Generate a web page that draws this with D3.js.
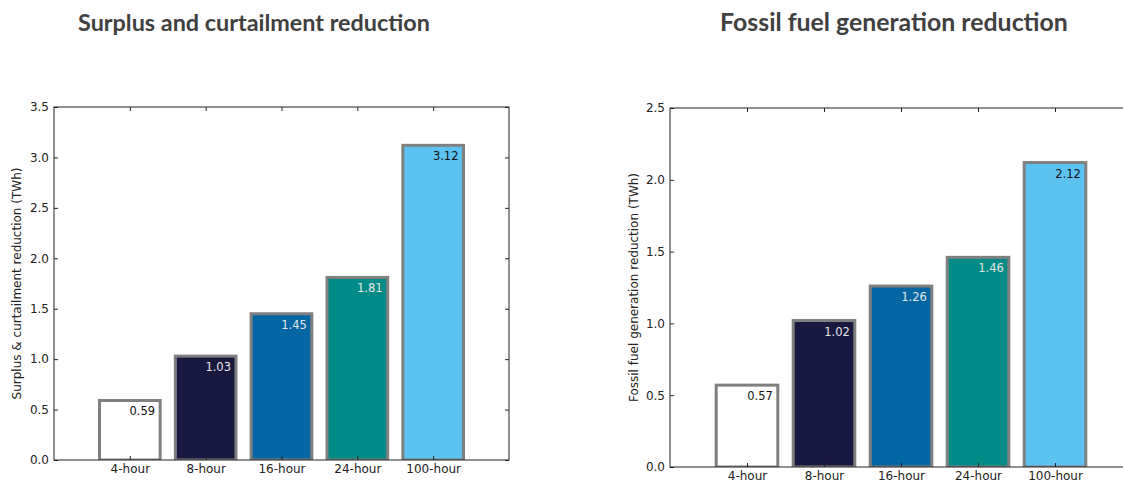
<!DOCTYPE html>
<html>
<head>
<meta charset="utf-8">
<script src="https://cdn.jsdelivr.net/npm/d3@7"></script>
<style>
  html, body { margin: 0; padding: 0; background: #fff; }
  svg { display: block; }
</style>
</head>
<body>
<svg id="chart" width="1123" height="482"></svg>
<script>
const categories = ["4-hour", "8-hour", "16-hour", "24-hour", "100-hour"];
const surplusValues = [0.59, 1.03, 1.45, 1.81, 3.12];
const fossilValues = [0.57, 1.02, 1.26, 1.46, 2.12];
const barColors = ["#ffffff", "#191841", "#0467a4", "#008b87", "#5bc2f1"];
const labelColors = ["#111111", "#e6e6e6", "#e6e6e6", "#e6e6e6", "#111111"];
const surplusTicks = [0, 0.5, 1.0, 1.5, 2.0, 2.5, 3.0, 3.5];
const fossilTicks = [0, 0.5, 1.0, 1.5, 2.0, 2.5];

const svg = d3.select("#chart");

function drawPanel(cfg) {
  const g = svg.append("g");
  const x = d3.scaleLinear().domain([-1, 5]).range([cfg.left, cfg.right]);
  const y = d3.scaleLinear().domain([0, cfg.ymax]).range([cfg.bottom, cfg.top]);
  const font = "'DejaVu Sans', sans-serif";

  const clipId = "clip" + cfg.id;
  svg.append("clipPath").attr("id", clipId)
    .append("rect").attr("x", cfg.left).attr("y", cfg.top)
    .attr("width", cfg.right - cfg.left).attr("height", cfg.bottom - cfg.top);

  const bars = g.append("g").attr("clip-path", `url(#${clipId})`);
  bars.selectAll("rect").data(cfg.values).enter().append("rect")
    .attr("x", (d, i) => x(i - 0.4))
    .attr("width", (d, i) => x(i + 0.4) - x(i - 0.4))
    .attr("y", d => y(d))
    .attr("height", d => y(0) - y(d))
    .attr("fill", (d, i) => barColors[i])
    .attr("stroke", "#808080")
    .attr("stroke-width", 3);

  g.append("g").selectAll("text").data(cfg.values).enter().append("text")
    .attr("x", (d, i) => x(i + 0.4) - 5)
    .attr("y", d => y(d) + 15)
    .attr("text-anchor", "end")
    .style("font-family", font)
    .style("font-size", "11.5px")
    .attr("fill", (d, i) => labelColors[i])
    .text(d => d.toFixed(2));

  const idx = d3.range(categories.length);
  const fmt = d3.format(".1f");
  const styleAxis = sel => {
    sel.selectAll(".domain").remove();
    sel.selectAll("line").attr("stroke", "#222");
    sel.selectAll("text").style("font-family", font).style("font-size", "12px").attr("fill", "#222");
  };
  g.append("g").attr("transform", `translate(${cfg.left},0)`)
    .call(d3.axisLeft(y).tickValues(cfg.ticks).tickFormat(fmt).tickSize(-4).tickPadding(5))
    .call(styleAxis);
  g.append("g").attr("transform", `translate(${cfg.right},0)`)
    .call(d3.axisRight(y).tickValues(cfg.ticks).tickFormat("").tickSize(-4))
    .call(styleAxis);
  g.append("g").attr("transform", `translate(0,${cfg.bottom})`)
    .call(d3.axisBottom(x).tickValues(idx).tickFormat(i => categories[i]).tickSize(-4).tickPadding(4))
    .call(styleAxis);
  g.append("g").attr("transform", `translate(0,${cfg.top})`)
    .call(d3.axisTop(x).tickValues(idx).tickFormat("").tickSize(-4))
    .call(styleAxis);

  g.append("rect")
    .attr("x", cfg.left).attr("y", cfg.top)
    .attr("width", cfg.right - cfg.left).attr("height", cfg.bottom - cfg.top)
    .attr("fill", "none").attr("stroke", "#222").attr("stroke-width", 1);

  g.append("text")
    .attr("transform", `translate(${cfg.ylabelX},${(cfg.top + cfg.bottom) / 2}) rotate(-90)`)
    .attr("text-anchor", "middle")
    .style("font-family", font)
    .style("font-size", "12px")
    .attr("fill", "#222")
    .text(cfg.ylabel);

  const t = g.append("text")
    .attr("x", cfg.titleX).attr("y", 31)
    .attr("text-anchor", "middle")
    .style("font-family", "Lato, 'Open Sans', sans-serif")
    .style("font-weight", "bold")
    .style("font-size", "23px")
    .attr("fill", "#404040")
    .text(cfg.title);
  const w = t.node().getComputedTextLength();
  if (w > 0) t.style("font-size", (23 * cfg.titleWidth / w) + "px");
}

drawPanel({
  id: "a", values: surplusValues, ticks: surplusTicks, ymax: 3.5,
  left: 54, right: 509, top: 107, bottom: 460,
  ylabel: "Surplus & curtailment reduction (TWh)", ylabelX: 21,
  title: "Surplus and curtailment reduction", titleX: 254, titleWidth: 352
});
drawPanel({
  id: "b", values: fossilValues, ticks: fossilTicks, ymax: 2.5,
  left: 670, right: 1132, top: 108, bottom: 467,
  ylabel: "Fossil fuel generation reduction (TWh)", ylabelX: 638,
  title: "Fossil fuel generation reduction", titleX: 894, titleWidth: 348
});
</script>
</body>
</html>
